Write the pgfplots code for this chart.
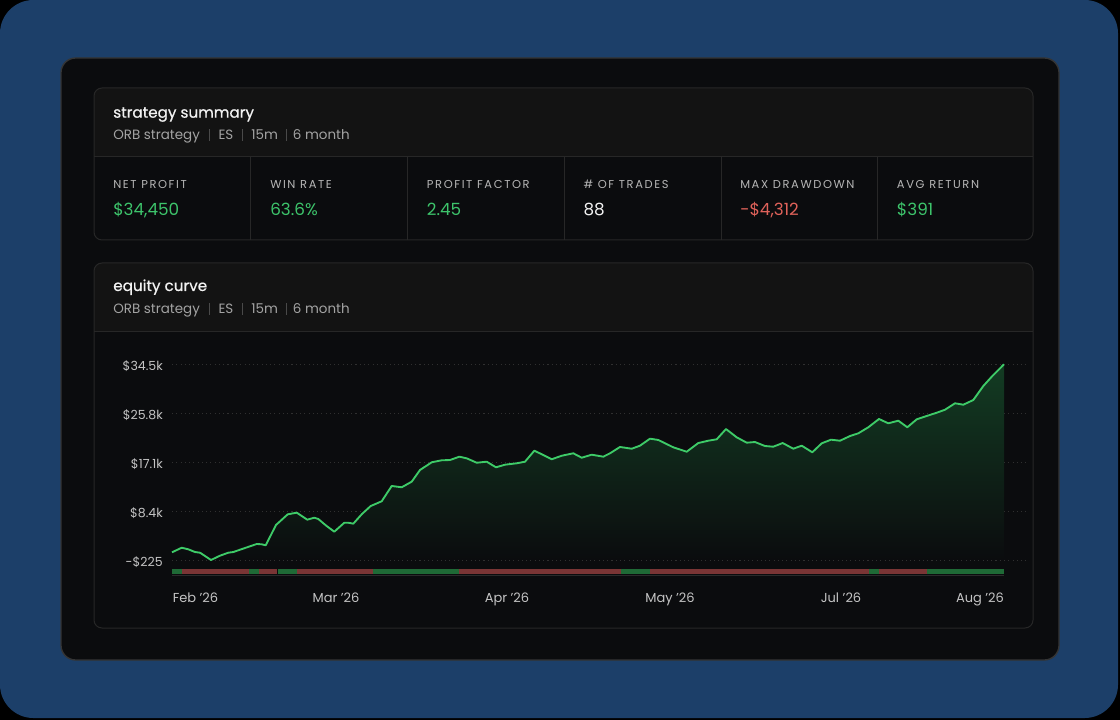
\documentclass[border=0pt]{standalone}
\usepackage{pgfplots}
\pgfplotsset{compat=1.18}
\usepackage{pgfplotstable}
\usepackage{fontspec}
\setmainfont{Poppins}
\newfontfamily\medfont[FakeBold=0.6]{Poppins}
\newfontfamily\capsfont[LetterSpace=14]{Poppins}

\definecolor{bgblue}{HTML}{1C3F69}
\definecolor{card}{HTML}{0B0C0E}
\definecolor{cardhead}{HTML}{131313}
\definecolor{cardline}{HTML}{272727}
\definecolor{outline}{HTML}{353535}
\definecolor{txt}{HTML}{F2F2F2}
\definecolor{subtxt}{HTML}{A3A3A3}
\definecolor{sep}{HTML}{4A4A4A}
\definecolor{lbl}{HTML}{B5B5B5}
\definecolor{pos}{HTML}{3DC46B}
\definecolor{neg}{HTML}{E0625A}
\definecolor{ticktxt}{HTML}{C4C4C4}
\definecolor{gridc}{HTML}{303030}
\definecolor{eq}{HTML}{3ECB68}
\definecolor{segred}{HTML}{7A3535}
\definecolor{seggreen}{HTML}{1F6A36}
\definecolor{fillg}{HTML}{133C23}
\definecolor{stripline}{HTML}{2A2A2A}

% equity curve, x in plot pixels, y in dollars
\pgfplotstableread{
x y
172 1140
181.7 1950
188.3 1670
195 1190
200 1070
211 -225
220 540
228.3 1070
233.3 1190
245 1900
256.7 2610
261.7 2560
265.7 2380
276 5980
287.7 7870
296.7 8160
307.3 6920
314.3 7270
318.3 7040
326 5890
334.3 4790
344.3 6380
348.3 6380
353.3 6210
362 7930
370.7 9340
381.7 10180
391.7 12890
401.7 12660
411.7 13650
420 15720
431.7 17090
441.7 17440
450 17490
459.3 18080
466.7 17790
476.7 17010
486.7 17190
496 16200
505 16660
516.7 16910
525 17190
534.3 19140
543.3 18380
551.7 17620
561.7 18250
573.3 18680
581.7 17900
591.7 18430
603.3 18080
610 18680
620 19800
631.7 19490
640 20030
650 21270
658.3 21040
673.3 19740
686.7 18960
698.3 20500
708.3 20910
716.7 21160
726 22980
736.7 21510
746.7 20560
755 20680
765 19970
773.3 19850
782.7 20500
793.3 19490
801.7 20030
812.3 18860
821.7 20450
831 21090
840 20910
850 21740
858.3 22220
868.3 23290
879 24760
888.3 23990
898.3 24460
907.3 23290
916.7 24700
926.7 25290
936.7 25870
945 26400
955 27540
963.3 27290
973.3 28120
983.3 30600
991.7 32250
1004 34450
}\equity

\newcommand{\card}[3]{%
  \begin{scope}
    \clip[rounded corners=6pt] (94,#1) rectangle (1033,#3);
    \fill[cardhead] (94,#1) rectangle (1033,#2);
    \fill[card] (94,#2) rectangle (1033,#3);
  \end{scope}
  \draw[cardline, line width=0.75pt] (94,#2) -- (1033,#2);
  \draw[cardline, line width=0.75pt, rounded corners=6pt] (94,#1) rectangle (1033,#3);
}
\newcommand{\subline}[1]{%
  \begin{scope}[every node/.style={anchor=base west, inner sep=0pt, text=subtxt,
      font=\fontsize{10.1}{12}\selectfont}]
    \node at (113,#1) {ORB strategy};
    \node at (218.3,#1) {ES};
    \node at (251,#1) {15m};
    \node at (292.7,#1) {6 month};
  \end{scope}
  \foreach \sx in {209,242.3,286.7} \draw[sep, line width=0.6pt] (\sx,#1-10.5) -- (\sx,#1+1);
}
\newcommand{\metric}[4]{%
  \node[anchor=base west, inner sep=0pt, text=lbl, font=\capsfont\fontsize{8.6}{10}\selectfont] at (#1,188.3) {#2};
  \node[anchor=base west, inner sep=0pt, text=#4, font=\fontsize{12.6}{14}\selectfont] at (#1,215.7) {#3};
}

\begin{document}
\begin{tikzpicture}
\begin{scope}[x=0.75pt,y=-0.75pt]
  \useasboundingbox (0,0) rectangle (1120,720);
  \fill[black] (0,0) rectangle (1120,720);
  \fill[bgblue, rounded corners=25pt] (0,0) rectangle (1118,718);
  \draw[outline, fill=card, line width=1pt, rounded corners=11pt] (61,58) rectangle (1059,660);

  % summary card
  \card{88}{157}{240}
  \node[anchor=base west, inner sep=0pt, text=txt, font=\medfont\fontsize{11.4}{13}\selectfont] at (113,117.7) {strategy summary};
  \subline{140}
  \foreach \dx in {250.7,407.7,564.3,721,877.7} \draw[cardline, line width=0.75pt] (\dx,157) -- (\dx,240);
  \metric{113}{NET PROFIT}{\$34,450}{pos}
  \metric{270}{WIN RATE}{63.6\%}{pos}
  \metric{426.7}{PROFIT FACTOR}{2.45}{pos}
  \metric{583.3}{\# OF TRADES}{88}{txt}
  \metric{740}{MAX DRAWDOWN}{-\$4,312}{neg}
  \metric{896.7}{AVG RETURN}{\$391}{pos}

  % equity card
  \card{263}{331}{628}
  \node[anchor=base west, inner sep=0pt, text=txt, font=\medfont\fontsize{11.4}{13}\selectfont] at (113,291) {equity curve};
  \subline{313.7}

  \coordinate (ax) at (172,585);
\end{scope}

\begin{axis}[
  at={(ax)}, anchor=south west,
  scale only axis, width=642pt, height=172.5pt,
  xmin=172, xmax=1028, ymin=-4654.2, ymax=36094.4,
  scaled y ticks=false, scaled x ticks=false,
  axis line style={draw=none}, major tick length=0pt,
  ytick={-225,8456.25,17137.5,25818.75,34500},
  yticklabels={-\$225,\$8.4k,\$17.1k,\$25.8k,\$34.5k},
  xtick={195.5,336,507,670,841,980},
  xticklabels={Feb '26,Mar '26,Apr '26,May '26,Jul '26,Aug '26},
  ymajorgrids,
  major grid style={gridc, line width=0.6pt, dash pattern=on 0.8pt off 2.4pt},
  yticklabel style={anchor=base east, inner sep=0pt, xshift=-6.75pt, yshift=-4.8pt,
    text=ticktxt, font=\fontsize{9.4}{11}\selectfont},
  xticklabel style={anchor=base, inner sep=0pt, yshift=-13pt,
    text=ticktxt, font=\fontsize{9.75}{11}\selectfont},
  clip=false,
]
  \addplot[draw=none, top color=fillg, bottom color=card, forget plot] table {\equity} \closedcycle;
  \addplot[eq, line width=1.4pt, mark=none, line join=round] table {\equity};

  % drawdown strip
  \addplot[stripline, line width=0.9pt, mark=none] coordinates {(172,-2900) (1004,-2900)};
  \addplot[seggreen, line width=3.6pt, mark=none] coordinates {(172,-2298) (182.3,-2298)};
  \addplot[segred, line width=3.6pt, mark=none] coordinates {(182.3,-2298) (249.3,-2298)};
  \addplot[seggreen, line width=3.6pt, mark=none] coordinates {(249.3,-2298) (259.3,-2298)};
  \addplot[segred, line width=3.6pt, mark=none] coordinates {(259.3,-2298) (276.7,-2298)};
  \addplot[seggreen, line width=3.6pt, mark=none] coordinates {(278.3,-2298) (297.3,-2298)};
  \addplot[segred, line width=3.6pt, mark=none] coordinates {(297.3,-2298) (373.3,-2298)};
  \addplot[seggreen, line width=3.6pt, mark=none] coordinates {(373.3,-2298) (459.3,-2298)};
  \addplot[segred, line width=3.6pt, mark=none] coordinates {(459.3,-2298) (621.3,-2298)};
  \addplot[seggreen, line width=3.6pt, mark=none] coordinates {(621.3,-2298) (650,-2298)};
  \addplot[segred, line width=3.6pt, mark=none] coordinates {(650,-2298) (869.3,-2298)};
  \addplot[seggreen, line width=3.6pt, mark=none] coordinates {(869.3,-2298) (879.3,-2298)};
  \addplot[segred, line width=3.6pt, mark=none] coordinates {(879.3,-2298) (927.3,-2298)};
  \addplot[seggreen, line width=3.6pt, mark=none] coordinates {(927.3,-2298) (1004,-2298)};
\end{axis}
\end{tikzpicture}
\end{document}
